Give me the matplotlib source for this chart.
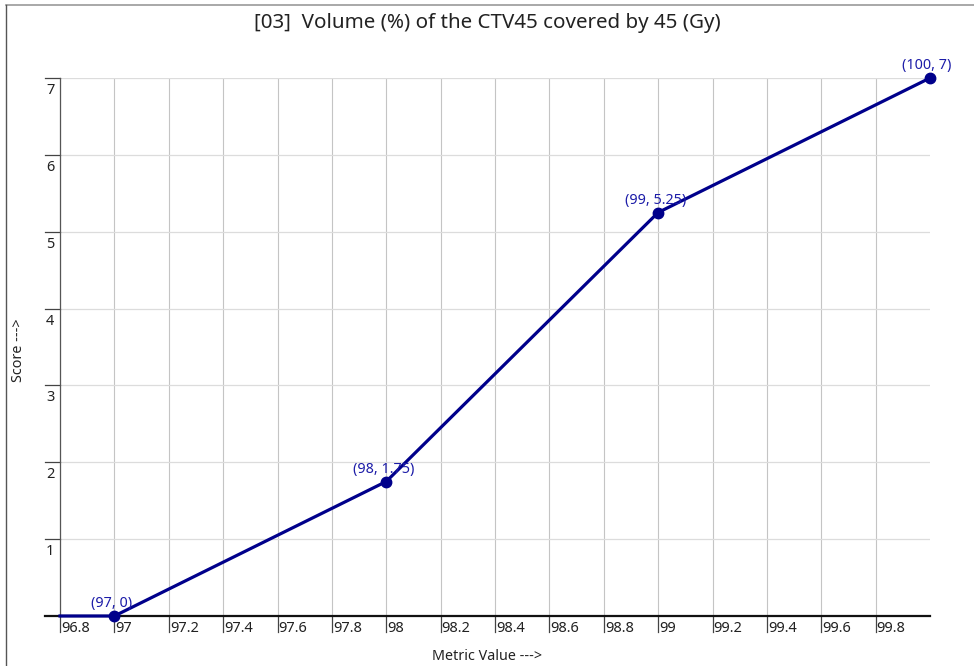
import matplotlib
matplotlib.use("Agg")
import matplotlib.pyplot as plt
from matplotlib.lines import Line2D

plt.rcParams['font.family'] = ['Noto Sans', 'DejaVu Sans']

# Datos de la curva
metric = [96.8, 97, 98, 99, 100]
score = [0, 0, 1.75, 5.25, 7]
labeled = [1, 2, 3, 4]  # puntos con marcador y etiqueta
point_labels = ["(97, 0)", "(98, 1.75)", "(99, 5.25)", "(100, 7)"]

x_ticks = [96.8, 97, 97.2, 97.4, 97.6, 97.8, 98, 98.2, 98.4, 98.6, 98.8, 99, 99.2, 99.4, 99.6, 99.8]
x_tick_labels = ["96.8", "97", "97.2", "97.4", "97.6", "97.8", "98", "98.2", "98.4", "98.6",
                 "98.8", "99", "99.2", "99.4", "99.6", "99.8"]
y_ticks = [1, 2, 3, 4, 5, 6, 7]
y_tick_labels = ["1", "2", "3", "4", "5", "6", "7"]

title = "[03]  Volume (%) of the CTV45 covered by 45 (Gy)"

W, H = 974, 666
fig = plt.figure(figsize=(W / 100, H / 100), dpi=100)
L, R, T, B = 60, 930, 78, 616
ax = fig.add_axes([L / W, 1 - B / H, (R - L) / W, (B - T) / H])
ax.set_xlim(96.8, 100)
ax.set_ylim(0, 7)

# Rejilla
for xt in x_ticks:
    ax.axvline(xt, color='#c4c4c4', lw=0.8, zorder=1)
for yt in y_ticks:
    ax.axhline(yt, color='#dcdcdc', lw=0.9, zorder=1)

for s in ['top', 'right', 'bottom']:
    ax.spines[s].set_visible(False)
ax.spines['left'].set_color('#555555')
ax.spines['left'].set_linewidth(0.9)
ax.set_xticks([])
ax.set_yticks([])

# Eje x grueso
ax.plot([-15 / (R - L), 1], [0, 0], transform=ax.transAxes, color='#111111', lw=1.6,
        clip_on=False, zorder=3)

# Marcas y etiquetas de x
for xt, lab in zip(x_ticks, x_tick_labels):
    ax.plot([xt, xt], [0, -16 / (B - T)], transform=ax.get_xaxis_transform(),
            color='#444444', lw=0.9, clip_on=False)
    ax.annotate(lab, xy=(xt, 0), xycoords=('data', 'axes fraction'),
                xytext=(1, -5), textcoords='offset pixels', ha='left', va='top',
                fontsize=10.5, color='#222222')

# Marcas y etiquetas de y
for yt, lab in zip(y_ticks, y_tick_labels):
    ax.plot([-15 / (R - L), 0], [yt, yt], transform=ax.get_yaxis_transform(),
            color='#444444', lw=0.9, clip_on=False)
    ax.annotate(lab, xy=(0, yt), xycoords=('axes fraction', 'data'),
                xytext=(-14, -5), textcoords='offset pixels', ha='left', va='top',
                fontsize=10.5, color='#222222')

# Curva
ax.plot(metric, score, color='#00008B', lw=2.3, zorder=4, clip_on=False)
ax.plot([metric[i] for i in labeled], [score[i] for i in labeled], 'o', color='#00008B',
        ms=7.5, zorder=5, clip_on=False)
for i, lab in zip(labeled, point_labels):
    ax.annotate(lab, xy=(metric[i], score[i]), xytext=(-3, 5), textcoords='offset pixels',
                ha='center', va='bottom', fontsize=10.3, color='#1c1ca8', zorder=6)

fig.text(0.5, 1 - 23 / H, title, ha='center', va='center', fontsize=14.8, color='#222222')
fig.text(0.5, 1 - 657 / H, "Metric Value --->", ha='center', va='center', fontsize=10.3,
         color='#222222')
fig.text(18 / W, 1 - 350 / H, "Score --->", ha='center', va='center', rotation=90,
         fontsize=10.3, color='#222222')

# Marco exterior (arriba e izquierda)
fig.add_artist(Line2D([6 / W, 1], [1 - 5 / H, 1 - 5 / H], color='#9a9a9a', lw=1.2))
fig.add_artist(Line2D([6 / W, 6 / W], [0, 1 - 5 / H], color='#555555', lw=1.0))

plt.savefig("out.png", dpi=100)
plt.close()
